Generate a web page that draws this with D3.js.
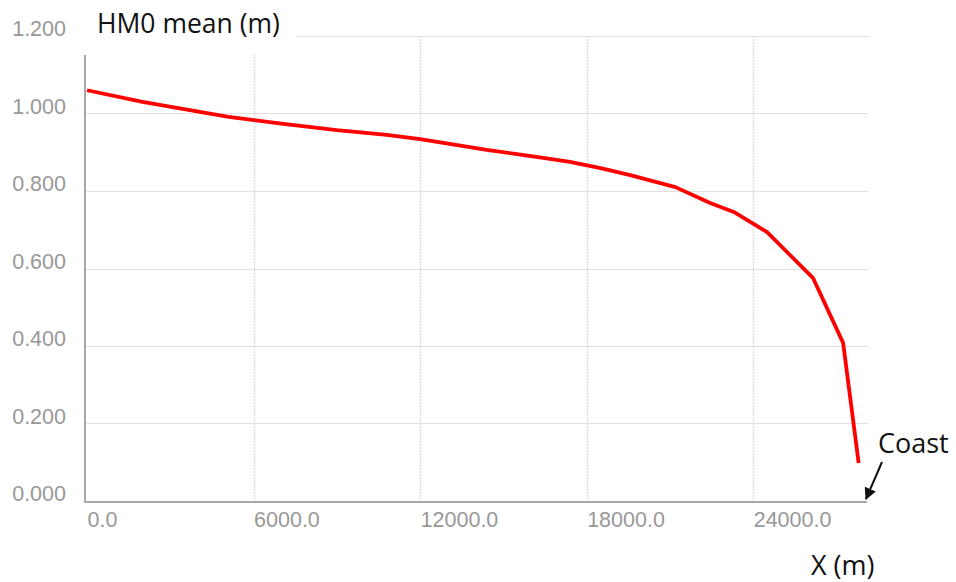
<!DOCTYPE html>
<html>
<head>
<meta charset="utf-8">
<script src="https://cdn.jsdelivr.net/npm/d3@7/dist/d3.min.js"></script>
<style>
html, body { margin: 0; padding: 0; background: #fff; }
svg { display: block; }
</style>
</head>
<body>
<script>
// Data
const xValues = [0, 2000, 5100, 7000, 9000, 10800, 12000, 14400, 16000, 17400, 18500, 19570, 21200, 22450, 23300, 24500, 26160, 27240, 27800];
const hm0Values = [1.060, 1.030, 0.991, 0.974, 0.957, 0.945, 0.934, 0.906, 0.890, 0.875, 0.859, 0.841, 0.810, 0.769, 0.746, 0.694, 0.575, 0.408, 0.098];
const xTicks = [0, 6000, 12000, 18000, 24000];
const yTicks = [0, 0.2, 0.4, 0.6, 0.8, 1.0, 1.2];
const titleText = "HM0 mean (m)";
const xTitleText = "X (m)";
const annotationText = "Coast";

const W = 956, H = 582;
const svg = d3.select("body").append("svg").attr("width", W).attr("height", H);

const x = d3.scaleLinear().domain([0, 28100]).range([87, 867]);
const y = d3.scaleLinear().domain([0, 1.2]).range([501, 36]);

const labelFont = "'Liberation Sans', Arial, sans-serif";
const textFont = "'Open Sans', 'Noto Sans', sans-serif";

// horizontal gridlines
svg.append("g").selectAll("line").data(yTicks.filter(d => d > 0)).join("line")
  .attr("x1", 85).attr("x2", 868)
  .attr("y1", d => Math.round(y(d)) + 0.5).attr("y2", d => Math.round(y(d)) + 0.5)
  .attr("stroke", "#e0e0e0").attr("stroke-width", 1);

// vertical gridlines
svg.append("g").selectAll("line").data(xTicks.filter(d => d > 0)).join("line")
  .attr("x1", d => Math.round(x(d)) + 0.5).attr("x2", d => Math.round(x(d)) + 0.5)
  .attr("y1", 36).attr("y2", 501)
  .attr("stroke", "#dcdcdc").attr("stroke-width", 1.3)
  .attr("stroke-dasharray", "2,1");

// white box behind title
svg.append("rect").attr("x", 72).attr("y", 0).attr("width", 224).attr("height", 55).attr("fill", "#fff");

// axes lines
svg.append("line").attr("x1", 85).attr("x2", 85).attr("y1", 55).attr("y2", 502)
  .attr("stroke", "#a8a8a8").attr("stroke-width", 2);
svg.append("line").attr("x1", 84).attr("x2", 867).attr("y1", 502).attr("y2", 502)
  .attr("stroke", "#a8a8a8").attr("stroke-width", 2);

// y tick labels
svg.append("g").selectAll("text").data(yTicks).join("text")
  .attr("x", 66).attr("y", d => y(d) - 7)
  .attr("text-anchor", "end").attr("dominant-baseline", "central")
  .attr("font-family", labelFont).attr("font-size", 21.5).attr("fill", "#989898")
  .text(d => d3.format(".3f")(d));

// x tick labels
svg.append("g").selectAll("text").data(xTicks).join("text")
  .attr("x", d => x(d) + 0.5).attr("y", 520)
  .attr("text-anchor", "start").attr("dominant-baseline", "central")
  .attr("font-family", labelFont).attr("font-size", 21.5).attr("fill", "#989898")
  .text(d => d3.format(".1f")(d));

// line
const line = d3.line().x((d, i) => x(xValues[i])).y(d => y(d));
svg.append("path").datum(hm0Values)
  .attr("d", line)
  .attr("fill", "none").attr("stroke", "#ff0000").attr("stroke-width", 3.8)
  .attr("stroke-linejoin", "round");

// titles
svg.append("text").attr("x", 97).attr("y", 33)
  .attr("font-family", textFont).attr("font-size", 26.5).attr("fill", "#111")
  .text(titleText);
svg.append("text").attr("x", 811).attr("y", 575)
  .attr("font-family", textFont).attr("font-size", 27).attr("fill", "#111")
  .text(xTitleText);
svg.append("text").attr("x", 878).attr("y", 453)
  .attr("font-family", textFont).attr("font-size", 27).attr("fill", "#111")
  .text(annotationText);

// arrow
svg.append("defs").append("marker")
  .attr("id", "arrowhead").attr("viewBox", "0 0 10 10")
  .attr("refX", 9).attr("refY", 5)
  .attr("markerWidth", 6).attr("markerHeight", 6)
  .attr("markerUnits", "strokeWidth")
  .attr("orient", "auto")
  .append("path").attr("d", "M0,0 L10,5 L0,10 z").attr("fill", "#111");
svg.append("line").attr("x1", 882).attr("y1", 462).attr("x2", 866).attr("y2", 499)
  .attr("stroke", "#111").attr("stroke-width", 2)
  .attr("marker-end", "url(#arrowhead)");
</script>
</body>
</html>
